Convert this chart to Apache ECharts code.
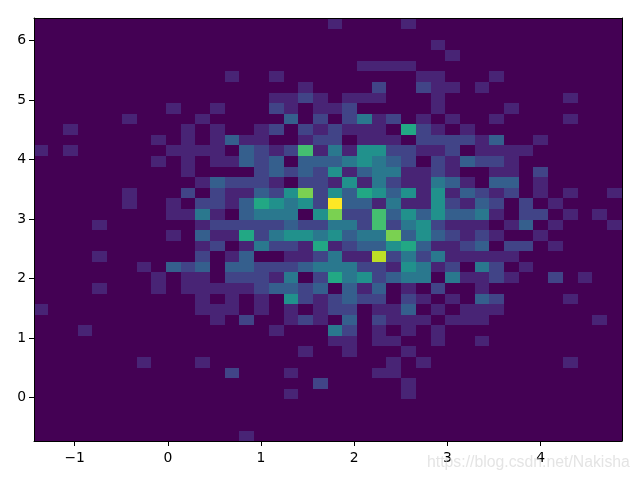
<!DOCTYPE html>
<html>
<head>
<meta charset="utf-8">
<style>html,body{margin:0;padding:0;background:#fff}#c{width:640px;height:480px}</style>
<script src="https://cdn.jsdelivr.net/npm/echarts@6/dist/echarts.min.js"></script>
</head>
<body>
<div id="c"></div>
<script>
// Axis limits and ticks
const xLimits = [-1.436, 4.873];
const yLimits = [-0.731, 6.378];
const xTicks = [-1, 0, 1, 2, 3, 4];
const yTicks = [0, 1, 2, 3, 4, 5, 6];
const binCount = 40;
// Colour per count (viridis, counts 0..11)
const viridis = ['#440154','#482475','#414487','#355f8d','#2a788e','#21918c','#22a884','#44bf70','#7ad151','#bddf26','#dde318','#fde725'];
// Non-zero counts per row of bins, top row first: {column: count}
const rowCounts = [
 {20:1,25:1},
 {},
 {27:1},
 {28:1},
 {22:1,23:1,24:1,25:1},
 {13:1,16:1,26:1,27:1,31:1},
 {18:1,23:2,26:2,27:1,28:1,30:1},
 {16:1,17:1,18:2,19:1,21:1,22:1,23:1,27:1,36:1},
 {9:1,12:1,16:2,17:1,19:1,20:1,21:2,27:1,32:1},
 {6:1,11:1,17:3,19:2,21:2,22:4,23:1,24:2,26:1,28:1,31:1,36:1},
 {2:1,10:1,12:1,15:1,16:2,18:2,19:1,20:2,21:1,22:1,23:1,25:6,26:2,27:1,29:1},
 {8:1,10:1,12:1,13:3,14:1,15:1,18:1,19:2,20:2,22:1,23:1,24:1,26:2,27:2,28:2,29:2,30:1,31:3,34:1},
 {0:1,2:1,9:1,10:1,11:1,12:1,14:3,15:2,16:1,17:2,18:7,19:1,20:4,21:1,22:5,23:5,24:2,25:2,26:1,27:1,28:2,30:1,31:1,32:1,33:1},
 {8:1,10:1,12:1,13:1,14:3,15:2,16:3,18:3,19:3,20:3,21:4,22:5,23:4,24:3,25:2,27:2,28:1,29:3,30:2,31:2,32:1},
 {10:1,15:2,16:3,17:2,18:3,19:2,20:5,21:1,22:3,23:4,24:4,25:1,26:1,27:2,28:1,31:1,32:1,34:2},
 {11:1,12:3,13:2,14:2,15:2,16:1,18:2,19:2,20:1,21:5,22:1,23:4,24:2,25:1,26:1,27:4,28:3,29:1,31:3,32:3,34:1},
 {6:1,10:2,12:2,13:1,14:1,15:3,16:2,17:5,18:8,19:2,20:5,21:3,22:6,23:5,24:3,25:5,26:1,27:5,28:1,29:3,30:2,31:1,32:2,34:1,36:1,39:1},
 {6:1,9:1,11:2,12:2,13:1,14:3,15:6,16:5,17:4,18:5,19:2,20:11,21:3,22:3,23:1,24:4,25:1,26:1,27:5,28:2,29:1,30:3,31:2,33:2,35:1},
 {9:1,10:1,11:4,12:1,14:3,15:4,16:4,17:4,19:5,20:8,21:2,22:2,23:7,24:3,25:5,26:3,27:5,28:3,29:3,30:4,31:1,33:2,34:2,36:1,38:1},
 {4:1,11:1,12:2,13:2,14:2,15:2,16:2,17:3,18:2,19:2,20:4,21:4,22:2,23:7,24:2,25:4,26:5,27:2,28:1,29:1,30:1,32:1,33:3,35:1,39:1},
 {9:1,11:3,12:1,13:1,14:6,15:2,16:4,17:5,18:5,19:4,20:5,21:3,22:4,23:4,24:8,25:3,26:5,27:3,28:2,29:1,30:2,31:1,34:1},
 {11:1,12:2,14:1,15:4,16:2,17:2,18:1,19:6,20:1,21:2,22:3,23:3,24:5,25:6,26:3,27:1,28:1,29:2,30:3,32:2,33:2,35:1},
 {4:1,11:2,13:1,14:3,17:1,18:1,19:2,20:4,21:1,22:1,23:9,24:2,25:4,26:2,27:4,28:1,29:1,30:1,31:1,32:1},
 {7:1,9:3,10:2,11:3,13:3,14:3,15:2,16:2,17:2,18:3,19:4,20:4,21:4,22:2,23:2,24:1,25:5,26:4,27:1,28:2,30:4,31:2,33:1},
 {8:1,10:1,11:1,13:2,14:2,15:2,16:1,17:4,19:2,20:6,21:4,22:5,23:2,24:3,25:4,26:4,28:4,29:1,30:1,31:2,32:1,35:2,37:1},
 {4:1,8:1,10:1,11:1,12:1,13:1,14:1,15:2,16:3,17:3,18:2,19:3,21:3,22:1,23:3,25:1,27:2,30:1},
 {11:1,13:1,15:1,17:5,18:2,19:1,20:2,21:3,22:2,23:2,25:2,26:1,28:1,30:3,31:2,36:1},
 {0:1,11:1,12:1,13:1,15:1,17:1,19:1,20:2,21:2,23:1,24:1,25:3,27:1,29:1,30:1,31:1},
 {12:1,14:2,17:1,18:2,19:1,21:3,23:2,24:1,25:1,26:1,28:1,29:1,30:1,38:1},
 {3:1,16:1,20:4,21:2,23:1,25:1,27:1},
 {20:1,21:1,23:1,24:1,27:1,30:1},
 {18:1,21:1,25:1},
 {7:1,11:1,24:1,26:1,36:1},
 {13:2,17:1,23:1,24:1},
 {19:2,25:1},
 {17:1,25:1},
 {},
 {},
 {},
 {14:1}
];

const xStep = (xLimits[1] - xLimits[0]) / binCount;
const yStep = (yLimits[1] - yLimits[0]) / binCount;
const cells = [];
for (let r = 0; r < binCount; r++) {
  for (let c = 0; c < binCount; c++) {
    const count = rowCounts[r][c] || 0;
    const yHigh = yLimits[1] - r * yStep;
    cells.push([xLimits[0] + c * xStep, yHigh - yStep, xLimits[0] + (c + 1) * xStep, yHigh, count]);
  }
}
const minusLabel = v => String(v).replace('-', '\u2212');
const labelStyle = {color:'#000', fontFamily:'DejaVu Sans', fontSize:13.9};
const lineStyle = {color:'#000', width:1};

function bottomAxis() {
  return {type:'value', min:xLimits[0], max:xLimits[1], position:'bottom', z:5, splitLine:{show:false},
    axisLine:{show:true, onZero:false, lineStyle},
    axisTick:{show:true, length:5, lineStyle, customValues:xTicks},
    axisLabel:{show:true, margin:10, formatter:minusLabel, customValues:xTicks, ...labelStyle}};
}
function leftAxis() {
  return {type:'value', min:yLimits[0], max:yLimits[1], position:'left', z:5, splitLine:{show:false},
    axisLine:{show:true, onZero:false, lineStyle},
    axisTick:{show:true, length:5, lineStyle, customValues:yTicks},
    axisLabel:{show:true, margin:8, padding:[2,0,0,0], formatter:minusLabel, customValues:yTicks, ...labelStyle}};
}
const plainAxis = (position, limits) => ({type:'value', min:limits[0], max:limits[1], position, z:5,
  splitLine:{show:false}, axisTick:{show:false}, axisLabel:{show:false},
  axisLine:{show:true, onZero:false, lineStyle}});

const chart = echarts.init(document.getElementById('c'), null, {renderer:'canvas'});
chart.setOption({
  animation:false,
  backgroundColor:'#fff',
  grid:{left:34, top:18, width:588, height:423, containLabel:false},
  xAxis:[bottomAxis(), plainAxis('top', xLimits)],
  yAxis:[leftAxis(), plainAxis('right', yLimits)],
  tooltip:{show:false},
  series:[{
    type:'custom',
    coordinateSystem:'cartesian2d',
    xAxisIndex:0, yAxisIndex:0,
    silent:true,
    clip:true,
    progressive:0,
    encode:{x:[0,2], y:[1,3]},
    data:cells,
    renderItem(params, api) {
      const a = api.coord([api.value(0), api.value(3)]);
      const b = api.coord([api.value(2), api.value(1)]);
      const x0 = Math.floor(a[0] + 0.1), y0 = Math.round(a[1] + 0.6);
      return {type:'rect',
        shape:{x:x0, y:y0, width:Math.floor(b[0] + 0.1) - x0, height:Math.round(b[1] + 0.6) - y0},
        style:{fill:viridis[api.value(4)]}};
    }
  }],
  graphic:[{
    type:'text', left:427, top:455, z:100, silent:true,
    style:{text:'https://blog.csdn.net/Nakisha', fontFamily:'Liberation Sans', fontSize:15.8,
      fill:'rgba(205,205,205,0.55)'}
  }]
});
</script>
</body>
</html>
